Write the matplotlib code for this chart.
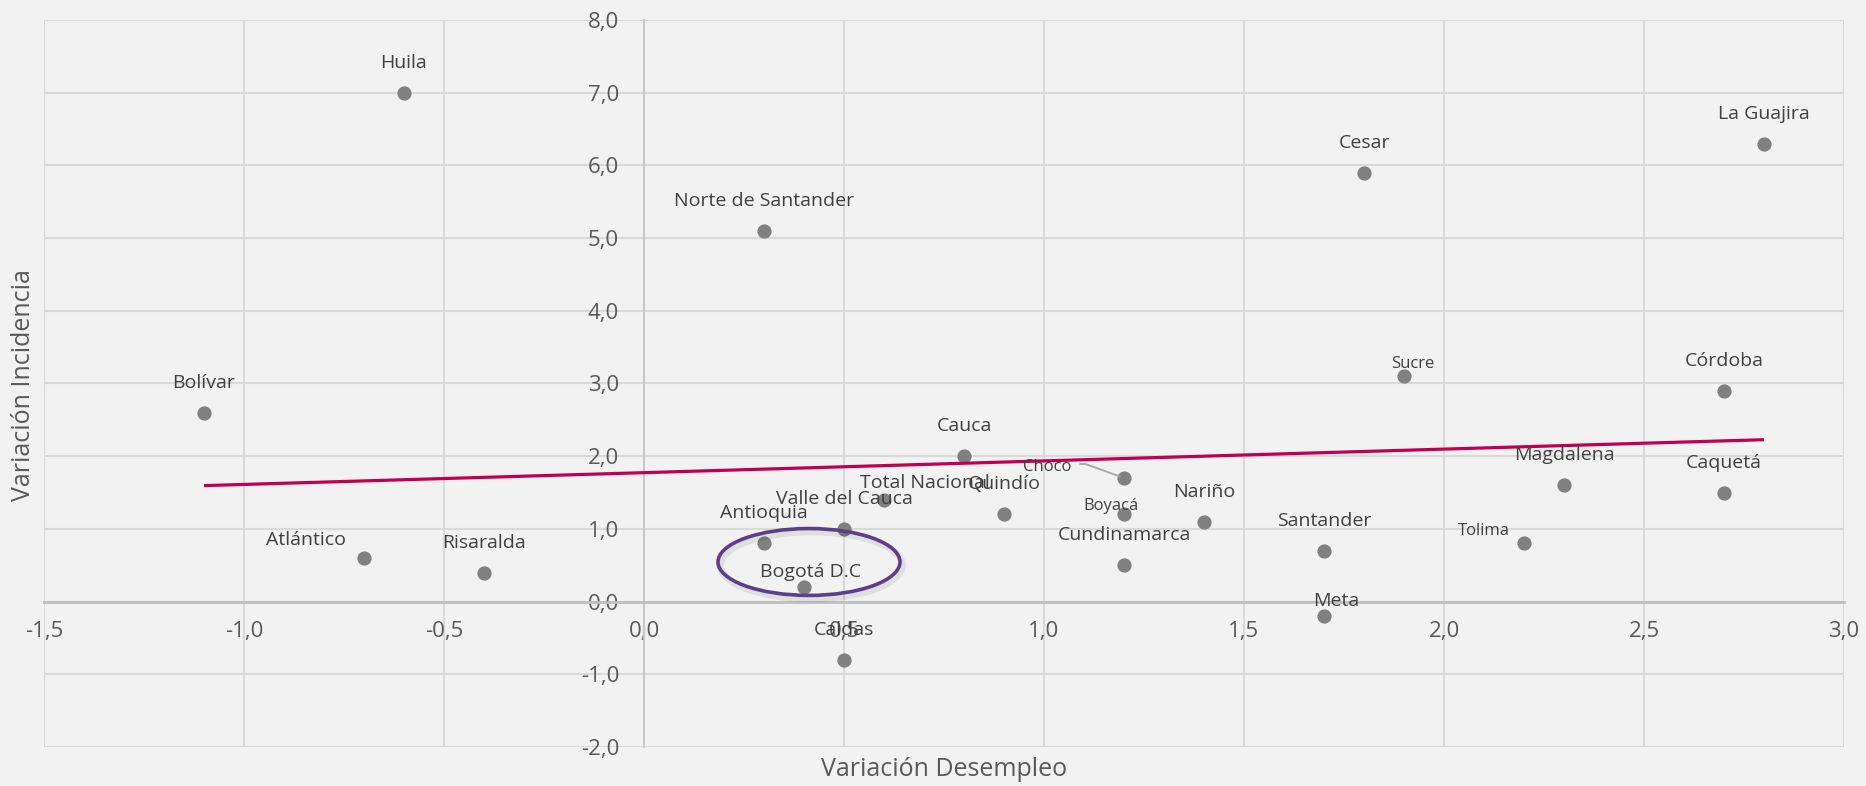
import numpy as np
import matplotlib
matplotlib.use("Agg")
import matplotlib.pyplot as plt
from matplotlib.patches import Ellipse
from matplotlib.ticker import FuncFormatter, MultipleLocator

# Data: change in unemployment vs change in incidence by department
departamentos = ["Huila", "Bolívar", "Atlántico", "Risaralda", "Norte de Santander",
                 "Antioquia", "Bogotá D.C", "Valle del Cauca", "Caldas", "Total Nacional",
                 "Cauca", "Quindío", "Choco", "Boyacá", "Cundinamarca", "Nariño",
                 "Santander", "Meta", "Cesar", "Sucre", "Tolima", "Magdalena",
                 "La Guajira", "Córdoba", "Caquetá"]
var_desempleo = [-0.6, -1.1, -0.7, -0.4, 0.3,
                 0.3, 0.4, 0.5, 0.5, 0.6,
                 0.8, 0.9, 1.2, 1.2, 1.2, 1.4,
                 1.7, 1.7, 1.8, 1.9, 2.2, 2.3,
                 2.8, 2.7, 2.7]
var_incidencia = [7.0, 2.6, 0.6, 0.4, 5.1,
                  0.8, 0.2, 1.0, -0.8, 1.4,
                  2.0, 1.2, 1.7, 1.2, 0.5, 1.1,
                  0.7, -0.2, 5.9, 3.1, 0.8, 1.6,
                  6.3, 2.9, 1.5]

# Label centre offsets from the point in pixels (default: centred above)
LABEL_OFFSETS = {
    "Atlántico": (-58, 18),
    "Total Nacional": (41, 17),
    "Choco": (-77, 11),
    "Boyacá": (-13, 8),
    "Bogotá D.C": (7, 15),
    "Sucre": (9, 12),
    "Tolima": (-40, 12),
    "Meta": (12, 15),
}
SMALL_LABELS = ("Choco", "Boyacá", "Sucre", "Tolima")

TEXT = "#595959"
LABEL = "#404040"
BG = "#f2f2f2"
PX = 0.72  # points per pixel at dpi 100

plt.rcParams["font.family"] = ["Open Sans", "DejaVu Sans"]

fig = plt.figure(figsize=(18.66, 7.86), dpi=100, facecolor=BG)
ax = fig.add_axes([44 / 1866, 1 - 747 / 786, 1800 / 1866, 727 / 786], facecolor=BG)

x = np.array(var_desempleo)
y = np.array(var_incidencia)

ax.scatter(x, y, s=105, color="#808080", zorder=3, linewidths=0)

# Linear trend line over the data range
slope, intercept = np.polyfit(x, y, 1)
xt = np.array([x.min(), x.max()])
ax.plot(xt, slope * xt + intercept, color="#c0004e", lw=2.3, zorder=4, solid_capstyle="butt")

for name, xv, yv in zip(departamentos, x, y):
    dx, dy = LABEL_OFFSETS.get(name, (0, 30))
    size = 12 if name in SMALL_LABELS else 14
    if name == "Choco":
        ax.annotate("", xy=(xv, yv), xytext=(-44 * PX, 14 * PX), textcoords="offset points",
                    arrowprops=dict(arrowstyle="-", color="#a6a6a6", lw=1.3,
                                    shrinkA=0, shrinkB=3,
                                    connectionstyle="angle,angleA=0,angleB=-20,rad=0"),
                    zorder=5)
    ax.annotate(name, xy=(xv, yv), xytext=(dx * PX, dy * PX), textcoords="offset points",
                ha="center", va="center", fontsize=size, color=LABEL, zorder=6)

# Highlight around Bogotá (soft shadow + outline)
shadow = Ellipse((0.418, 0.50), 0.455, 0.92, fill=False, edgecolor=(0, 0, 0, 0.08), lw=5, zorder=5)
ax.add_patch(shadow)
ellipse = Ellipse((0.4125, 0.545), 0.455, 0.92, fill=False, edgecolor="#5b3f88", lw=2.6, zorder=5)
ax.add_patch(ellipse)

ax.set_xlim(-1.5, 3.0)
ax.set_ylim(-2.0, 8.0)
ax.xaxis.set_major_locator(MultipleLocator(0.5))
ax.yaxis.set_major_locator(MultipleLocator(1.0))
fmt = FuncFormatter(lambda v, pos: f"{v:.1f}".replace(".", ","))
ax.xaxis.set_major_formatter(fmt)
ax.yaxis.set_major_formatter(fmt)

ax.grid(True, color="#d9d9d9", lw=1.5, zorder=0)
for line in ax.get_xgridlines() + ax.get_ygridlines():
    line.set_clip_on(False)
ax.set_axisbelow(True)

ax.spines["left"].set_position(("data", 0))
ax.spines["bottom"].set_position(("data", 0))
ax.spines["left"].set_color("#c8c8c8")
ax.spines["left"].set_linewidth(1.5)
ax.spines["bottom"].set_color("#bfbfbf")
ax.spines["bottom"].set_linewidth(2)
ax.spines["top"].set_visible(False)
ax.spines["right"].set_visible(False)

ax.tick_params(axis="both", length=0, labelsize=16, labelcolor=TEXT)
ax.tick_params(axis="y", pad=18)
ax.tick_params(axis="x", pad=14)

fig.text(944 / 1866, 1 - 770 / 786, "Variación Desempleo", ha="center", va="center",
         fontsize=18, color=TEXT)
fig.text(24 / 1866, 1 - 385 / 786, "Variación Incidencia", ha="center", va="center",
         rotation=90, fontsize=18, color=TEXT)

fig.savefig("out.png", dpi=100, facecolor=BG)
